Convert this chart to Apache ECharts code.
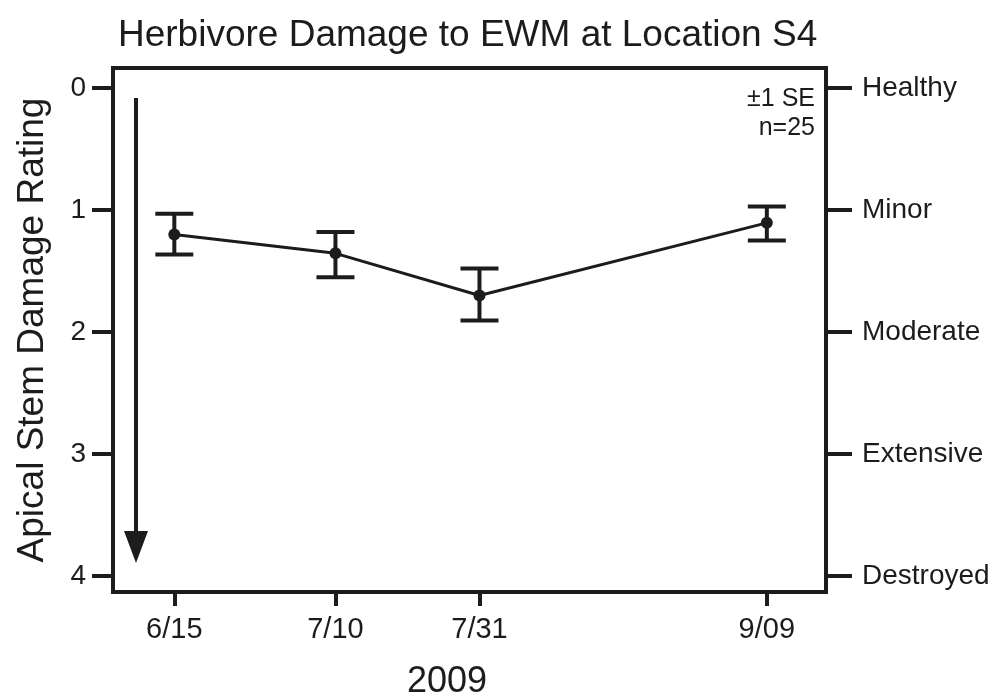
<!DOCTYPE html>
<html lang="en">
<head>
    <meta charset="UTF-8">
    <title>Herbivore Damage to EWM at Location S4</title>
    <script src="https://cdn.jsdelivr.net/npm/echarts@6/dist/echarts.min.js"></script>
    <style>
        html, body { margin: 0; padding: 0; background: #fff; }
        #chart { width: 995px; height: 698px; }
    </style>
</head>
<body>
    <div id="chart"></div>
</body>
<script type="text/javascript">
    // sampling dates and where they sit along the x axis (0-100 across the frame)
    var dates = ['6/15', '7/10', '7/31', '9/09'];
    var datePos = [8.6, 31.2, 51.4, 91.7];
    // mean apical stem damage rating and +/- 1 SE limits
    var meanRating = [1.20, 1.355, 1.70, 1.105];
    var seLow = [1.03, 1.18, 1.48, 0.97];
    var seHigh = [1.365, 1.55, 1.905, 1.25];
    var ratingTicks = [0, 1, 2, 3, 4];
    var ratingNames = ['Healthy', 'Minor', 'Moderate', 'Extensive', 'Destroyed'];

    var ink = '#1c1c1c';
    var font = '"Liberation Sans", Arial, Helvetica, sans-serif';

    var chartDom = document.getElementById('chart');
    var myChart = echarts.init(chartDom);

    var lineData = datePos.map(function (x, i) { return [x, meanRating[i]]; });
    var errData = datePos.map(function (x, i) { return [x, seLow[i], seHigh[i]]; });

    var option = {
        backgroundColor: '#fff',
        animation: false,
        title: {
            text: 'Herbivore Damage to EWM at Location S4',
            left: 113,
            top: 12,
            textStyle: { fontFamily: font, fontSize: 37, fontWeight: 'normal', color: ink }
        },
        grid: {
            left: 113, right: 169, top: 68, bottom: 106,
            show: true, borderWidth: 4, borderColor: ink
        },
        xAxis: {
            type: 'value',
            min: 0,
            max: 100,
            axisLine: { show: false, onZero: false },
            splitLine: { show: false },
            axisTick: {
                show: true, length: 14, inside: false,
                customValues: datePos,
                lineStyle: { color: ink, width: 4 }
            },
            axisLabel: {
                customValues: datePos,
                margin: 23,
                fontFamily: font, fontSize: 29, color: ink,
                formatter: function (v) {
                    var i = datePos.indexOf(v);
                    return i >= 0 ? dates[i] : '';
                }
            }
        },
        yAxis: [{
            type: 'value',
            inverse: true,
            min: -0.164,
            max: 4.13,
            name: 'Apical Stem Damage Rating',
            nameLocation: 'middle',
            nameGap: 62,
            nameTextStyle: { fontFamily: font, fontSize: 37, color: ink },
            axisLine: { show: false },
            splitLine: { show: false },
            axisTick: {
                show: true, length: 21,
                customValues: ratingTicks,
                lineStyle: { color: ink, width: 4 }
            },
            axisLabel: {
                customValues: ratingTicks,
                margin: 27,
                fontFamily: font, fontSize: 28, color: ink
            }
        }, {
            type: 'value',
            inverse: true,
            position: 'right',
            min: -0.164,
            max: 4.13,
            axisLine: { show: false },
            splitLine: { show: false },
            axisTick: {
                show: true, length: 26,
                customValues: ratingTicks,
                lineStyle: { color: ink, width: 4 }
            },
            axisLabel: {
                customValues: ratingTicks,
                margin: 36,
                fontFamily: font, fontSize: 28, color: ink,
                formatter: function (v) {
                    var i = ratingTicks.indexOf(v);
                    return i >= 0 ? ratingNames[i] : '';
                }
            }
        }],
        graphic: [
            {
                // downward arrow: increasing damage
                type: 'line',
                shape: { x1: 136, y1: 98, x2: 136, y2: 535 },
                style: { stroke: ink, lineWidth: 4 }
            },
            {
                type: 'polygon',
                shape: { points: [[124, 531], [148, 531], [136, 563]] },
                style: { fill: ink }
            },
            {
                type: 'text',
                style: {
                    x: 815, y: 99, text: '±1 SE',
                    align: 'right', verticalAlign: 'middle',
                    font: '25px ' + font, fill: ink
                }
            },
            {
                type: 'text',
                style: {
                    x: 815, y: 128, text: 'n=25',
                    align: 'right', verticalAlign: 'middle',
                    font: '25px ' + font, fill: ink
                }
            },
            {
                type: 'text',
                style: {
                    x: 447, y: 682, text: '2009',
                    align: 'center', verticalAlign: 'middle',
                    font: '36px ' + font, fill: ink
                }
            }
        ],
        series: [
            {
                type: 'custom',
                renderItem: function (params, api) {
                    var x = api.value(0);
                    var lo = api.coord([x, api.value(1)]);
                    var hi = api.coord([x, api.value(2)]);
                    var half = 19;
                    var st = { stroke: ink, lineWidth: 4 };
                    return {
                        type: 'group',
                        children: [
                            { type: 'line', shape: { x1: lo[0], y1: lo[1], x2: hi[0], y2: hi[1] }, style: st },
                            { type: 'line', shape: { x1: lo[0] - half, y1: lo[1], x2: lo[0] + half, y2: lo[1] }, style: st },
                            { type: 'line', shape: { x1: hi[0] - half, y1: hi[1], x2: hi[0] + half, y2: hi[1] }, style: st }
                        ]
                    };
                },
                data: errData,
                z: 2
            },
            {
                type: 'line',
                data: lineData,
                symbol: 'circle',
                symbolSize: 12,
                itemStyle: { color: ink },
                lineStyle: { color: ink, width: 3 },
                z: 3
            }
        ]
    };

    option && myChart.setOption(option);
</script>
</html>
